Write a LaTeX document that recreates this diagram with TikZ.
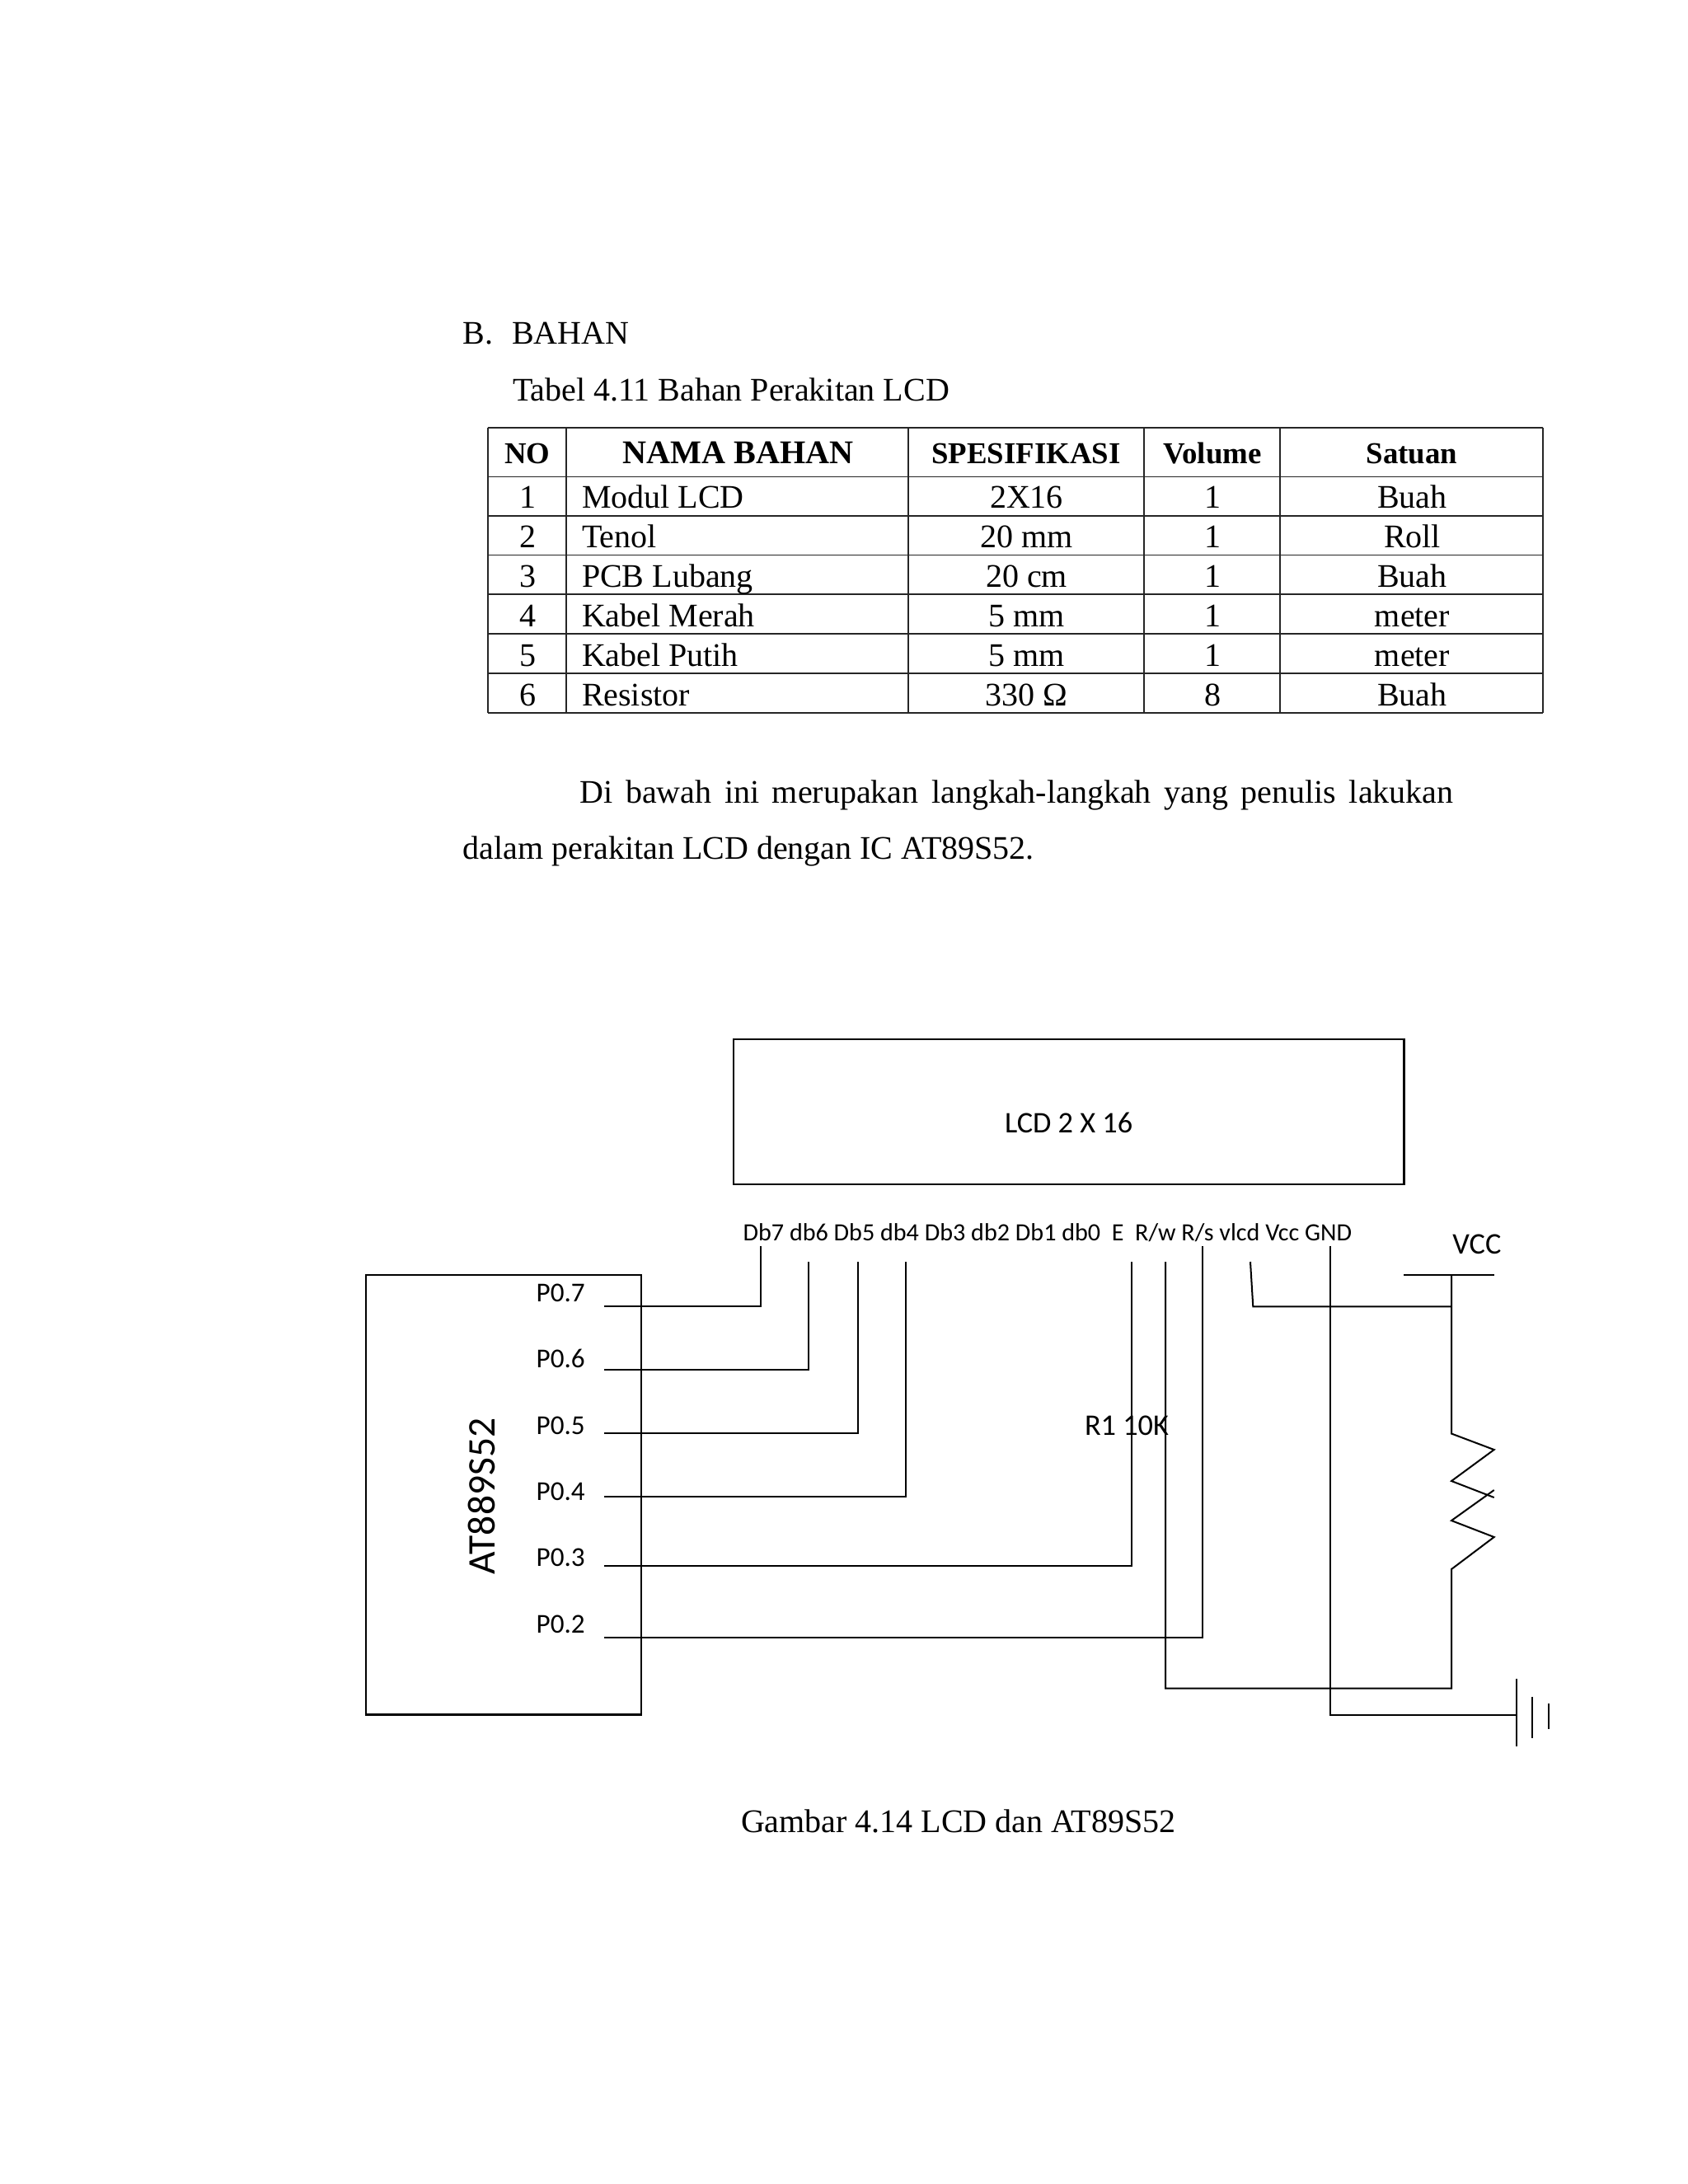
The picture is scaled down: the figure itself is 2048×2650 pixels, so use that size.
\documentclass[tikz,border=0pt]{standalone}
\usepackage{fontspec}
\setmainfont{Liberation Serif}
\newfontfamily\diag{Carlito}
\def\uu{0.29883pt}
\tikzset{
  body/.style={anchor=base west,inner sep=0pt,outer sep=0pt,font=\fontsize{11.95}{14}\selectfont},
  cellc/.style={anchor=base,inner sep=0pt,outer sep=0pt,font=\fontsize{11.95}{14}\selectfont},
  celll/.style={anchor=base west,inner sep=0pt,outer sep=0pt,font=\fontsize{11.95}{14}\selectfont},
  headb/.style={anchor=base,inner sep=0pt,outer sep=0pt,font=\fontsize{11}{13}\selectfont\bfseries},
  headl/.style={anchor=base,inner sep=0pt,outer sep=0pt,font=\fontsize{12}{14}\selectfont\bfseries},
  tline/.style={draw=black!85,line width=0.42pt},
  wire/.style={draw=black,line width=0.6pt},
  compbox/.style={draw=black,line width=0.7pt,inner sep=0pt,outer sep=0pt},
  dlab/.style={anchor=base west,inner sep=0pt,outer sep=0pt,font=\diag\fontsize{9.9}{11}\selectfont},
  dlabp/.style={anchor=base west,inner sep=0pt,outer sep=0pt,font=\diag\fontsize{9}{11}\selectfont},
  dlabb/.style={anchor=base west,inner sep=0pt,outer sep=0pt,font=\diag\fontsize{10.85}{13}\selectfont},
}
\begin{document}
\begin{tikzpicture}[x=\uu,y=-\uu]
\useasboundingbox (0,0) rectangle (2048,2650);
\fill[white] (0,0) rectangle (2048,2650);
% headings
\node[body] (hB) at (561.6,417.5) {B.};
\node[body] (hBahan) at (621,417.5) {BAHAN};
\node[body] (hTab) at (622,486) {Tabel 4.11 Bahan Perakitan LCD};
% table grid
\foreach \yy in {519,578.7,626,673.7,721,769,817,865} \draw[tline] (592,\yy) -- (1872,\yy);
\foreach \xx in {592,687,1102,1388,1553,1872} \draw[tline] (\xx,519) -- (\xx,865);
% header
\node[headb] (hNo) at (640,562) {NO};
\node[headl] (hNama) at (895.5,562) {NAMA BAHAN};
\node[headb] (hSpek) at (1245,562) {SPESIFIKASI};
\node[headb] (hVol) at (1471,562) {Volume};
\node[headb] (hSat) at (1713,562) {Satuan};
% rows
\foreach \n/\bl/\nm/\sp/\vv/\st in {
 1/616.8/Modul LCD/2X16/1/Buah,
 2/664.8/Tenol/20 mm/1/Roll,
 3/712.8/PCB Lubang/20 cm/1/Buah,
 4/760.8/Kabel Merah/5 mm/1/meter,
 5/808.8/Kabel Putih/5 mm/1/meter,
 6/856.8/Resistor/330 Ω/8/Buah}{
  \node[cellc] (no\n) at (640.5,\bl) {\n};
  \node[celll] (nm\n) at (706,\bl) {\nm};
  \node[cellc] (sp\n) at (1245.5,\bl) {\sp};
  \node[cellc] (vo\n) at (1471.5,\bl) {\vv};
  \node[cellc] (st\n) at (1713.5,\bl) {\st};
}
% paragraph
\node[body] (par1) at (703.6,974.5) {\makebox[316.7pt][s]{Di bawah ini merupakan langkah-langkah yang penulis lakukan}};
\node[body] (par2) at (561.6,1042) {dalam perakitan LCD dengan IC AT89S52.};
% caption
\node[body] (cap) at (899,2223) {Gambar 4.14 LCD dan AT89S52};
% components
\node[compbox,minimum width=813.6*\uu,minimum height=176*\uu] (lcd) at (1296.8,1349) {};
\node[compbox,minimum width=334.3*\uu,minimum height=533.5*\uu] (at) at (610.85,1813.75) {};
\node[dlabb] (lcdt) at (1219,1374) {LCD 2 X 16};
\node[anchor=base west,inner sep=0pt,outer sep=0pt,font=\diag\fontsize{14.2}{16}\selectfont,rotate=90] (att) at (600,1910) {AT889S52};
\node[dlabp] (pins) at (901.6,1505) {Db7 db6 Db5 db4 Db3 db2 Db1 db0\ \ E\ \ R/w R/s vlcd Vcc GND};
\node[dlab] (p7) at (650.7,1579.3) {P0.7};
\node[dlab] (p6) at (650.7,1659.6) {P0.6};
\node[dlab] (p5) at (650.7,1740) {P0.5};
\node[dlab] (p4) at (650.7,1820.3) {P0.4};
\node[dlab] (p3) at (650.7,1900.6) {P0.3};
\node[dlab] (p2) at (650.7,1981) {P0.2};
\node[dlabb] (vcct) at (1762.4,1521) {VCC};
\node[dlabb] (r1t) at (1316,1741.5) {R1 10K};
% named end points
\coordinate (a7) at (733,1585.3); \coordinate (t7) at (922.5,1511.6); \coordinate (k7) at (922.5,1585.3);
\coordinate (a6) at (733,1662.3); \coordinate (t6) at (980.7,1531); \coordinate (k6) at (980.7,1662.3);
\coordinate (a5) at (733,1739.3); \coordinate (t5) at (1041.4,1531); \coordinate (k5) at (1041.4,1739.3);
\coordinate (a4) at (733,1816.3); \coordinate (t4) at (1099,1531); \coordinate (k4) at (1099,1816.3);
\coordinate (a3) at (733,1900); \coordinate (tE) at (1372.5,1531); \coordinate (kE) at (1372.5,1900);
\coordinate (a2) at (733,1987); \coordinate (tS) at (1459,1511.6); \coordinate (kS) at (1459,1987);
\coordinate (tW) at (1414,1531); \coordinate (kW) at (1414,2048.7); \coordinate (kV) at (1761,2048.7);
\coordinate (tL) at (1517,1531); \coordinate (kL) at (1520.3,1585.3); \coordinate (jV) at (1761,1585.3);
\coordinate (vtop) at (1761,1546.6); \coordinate (vbl) at (1703,1546.6); \coordinate (vbr) at (1812.7,1546.6);
\coordinate (r0) at (1761,1739.5); \coordinate (r1) at (1812.7,1759); \coordinate (r2) at (1761,1797);
\coordinate (r3) at (1812.7,1817); \coordinate (r4) at (1812.7,1808); \coordinate (r5) at (1761,1845);
\coordinate (r6) at (1812.7,1865); \coordinate (r7) at (1761,1904);
\coordinate (tG) at (1613.7,1511.6); \coordinate (kG) at (1613.7,2080.7); \coordinate (g1) at (1840,2080.7);
\coordinate (g1a) at (1840,2036.7); \coordinate (g1b) at (1840,2118.7);
\coordinate (g2a) at (1859.3,2058.7); \coordinate (g2b) at (1859.3,2108.7);
\coordinate (g3a) at (1879.3,2066.7); \coordinate (g3b) at (1879.3,2098.3);
% connectors
\draw[wire] (a7) -- (k7) -- (t7);
\draw[wire] (a6) -- (k6) -- (t6);
\draw[wire] (a5) -- (k5) -- (t5);
\draw[wire] (a4) -- (k4) -- (t4);
\draw[wire] (a3) -- (kE) -- (tE);
\draw[wire] (a2) -- (kS) -- (tS);
\draw[wire] (tW) -- (kW) -- (kV) -- (r7) -- (r6) -- (r5) -- (r4);
\draw[wire] (tL) -- (kL) -- (jV);
\draw[wire] (vbl) -- (vbr);
\draw[wire] (vtop) -- (r0) -- (r1) -- (r2) -- (r3);
\draw[wire] (tG) -- (kG) -- (g1);
\draw[wire] (g1a) -- (g1b);
\draw[wire] (g2a) -- (g2b);
\draw[wire] (g3a) -- (g3b);
\end{tikzpicture}
\end{document}
